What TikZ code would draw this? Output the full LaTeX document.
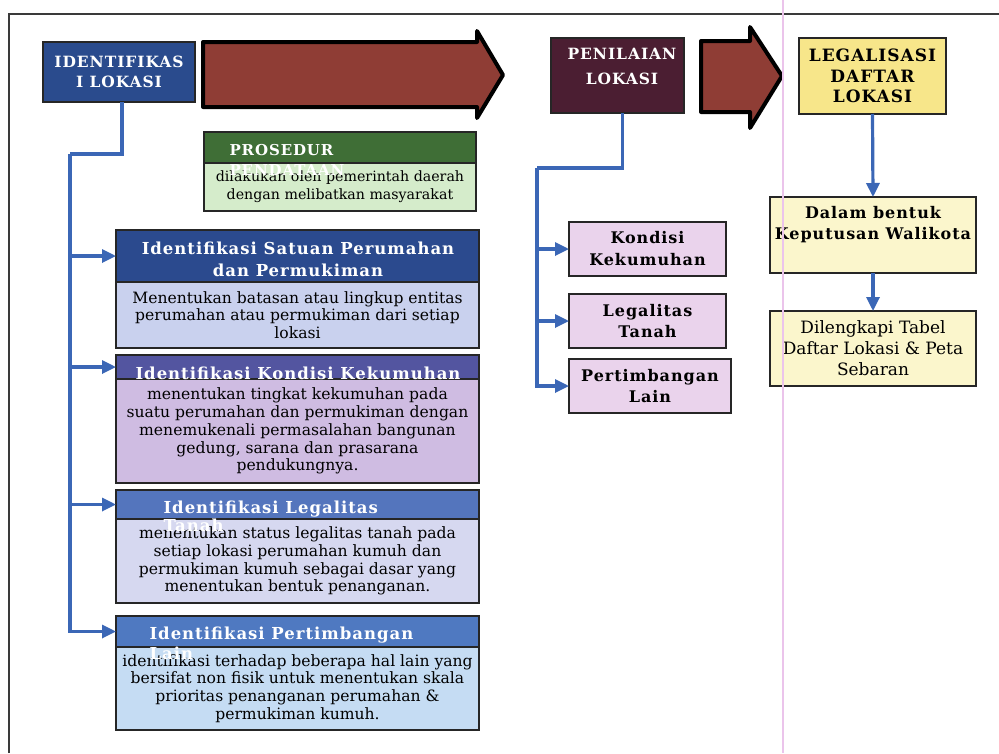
\documentclass[tikz,border=0pt]{standalone}
\usepackage{fontspec}
\setmainfont{DejaVu Serif}
\newfontfamily\lsfont[LetterSpace=6]{DejaVu Serif}
\usetikzlibrary{arrows.meta}
\definecolor{idblue}{HTML}{2A4B8D}
\definecolor{arrowred}{HTML}{8F3D35}
\definecolor{penmaroon}{HTML}{4B1E32}
\definecolor{legyellow}{HTML}{F7E68A}
\definecolor{lightyellow}{HTML}{FBF6CC}
\definecolor{lavpink}{HTML}{EAD3EC}
\definecolor{prosgreen}{HTML}{3F6E36}
\definecolor{prosbody}{HTML}{D5ECCB}
\definecolor{tone}{HTML}{2B4A8E}
\definecolor{bone}{HTML}{C9D1EE}
\definecolor{ttwo}{HTML}{5355A0}
\definecolor{btwo}{HTML}{CFBCE2}
\definecolor{tthree}{HTML}{5475BD}
\definecolor{bthree}{HTML}{D6D8F0}
\definecolor{tfour}{HTML}{4F79C1}
\definecolor{bfour}{HTML}{C5DCF3}
\definecolor{conncol}{HTML}{3B67B6}
\definecolor{framecol}{HTML}{3A3A3A}
\definecolor{pinkline}{HTML}{EBC4EB}
\tikzset{
  boxnode/.style={draw=black!85, line width=1.6pt, inner sep=0pt, outer sep=0pt, anchor=north west, align=center},
  bodytext/.style={font=\fontsize{15.6}{17.8}\selectfont},
  smalltext/.style={font=\fontsize{14.2}{18}\selectfont},
  titletext/.style={font=\fontsize{16.5}{22}\lsfont\bfseries, text=white},
  boldbox/.style={font=\fontsize{16}{21}\lsfont\bfseries},
  conn/.style={draw=conncol, line width=3.2pt},
  connarrow/.style={conn, -{Triangle[length=14pt,width=13pt]}},
  bigarrow/.style={draw=black, line width=4pt, line join=round, fill=arrowred},
}
\begin{document}
\begin{tikzpicture}[x=1pt,y=-1pt]
\useasboundingbox (0,0) rectangle (999,753);
\fill[white] (0,0) rectangle (999,753);
% frame
\draw[framecol, line width=1.6pt] (9,753) -- (9,14) -- (999,14);

% big arrows
\draw[bigarrow] (203,42) -- (477,42) -- (477,31) -- (503,75) -- (477,118) -- (477,107) -- (203,107) -- cycle;
\draw[bigarrow] (701,41) -- (750,41) -- (750,27) -- (782,76) -- (750,128) -- (750,112) -- (701,112) -- cycle;

% main boxes
\node[boxnode, fill=idblue, minimum width=152pt, minimum height=60pt, text=white, font=\fontsize{15.5}{20}\lsfont\bfseries] (ident) at (43,42) {IDENTIFIKAS\\I LOKASI};
\node[boxnode, fill=penmaroon, minimum width=133pt, minimum height=75pt] (pen) at (551,38) {};
\node[text=white, font=\fontsize{15.5}{25}\lsfont\bfseries, align=center] (pentext) at (622,66) {PENILAIAN\\LOKASI};
\node[boxnode, fill=legyellow, minimum width=147pt, minimum height=76pt, font=\fontsize{17}{20.5}\lsfont\bfseries] (leg) at (799,38) {LEGALISASI\\DAFTAR\\LOKASI};

% prosedur
\node[boxnode, fill=prosgreen, minimum width=272pt, minimum height=31pt] (prost) at (204,132) {};
\node[boxnode, fill=prosbody, minimum width=272pt, minimum height=48pt, smalltext] (prosb) at (204,163) {dilakukan oleh pemerintah daerah\\dengan melibatkan masyarakat};
\node[titletext, font=\fontsize{15}{20}\lsfont\bfseries, anchor=west, align=left] (prostext) at (226,160) {PROSEDUR\\PENDATAAN};

% left column boxes
\node[boxnode, fill=tone, minimum width=363pt, minimum height=52pt] (t1) at (116,230) {};
\node[boxnode, fill=bone, minimum width=363pt, minimum height=66pt, bodytext] (b1) at (116,282) {Menentukan batasan atau lingkup entitas\\perumahan atau permukiman dari setiap\\lokasi};
\node[titletext, align=center] (t1text) at (298,259) {Identifikasi Satuan Perumahan\\dan Permukiman};

\node[boxnode, fill=ttwo, minimum width=363pt, minimum height=24pt] (t2) at (116,355) {};
\node[boxnode, fill=btwo, minimum width=363pt, minimum height=104pt, bodytext] (b2) at (116,379) {menentukan tingkat kekumuhan pada\\suatu perumahan dan permukiman dengan\\menemukenali permasalahan bangunan\\gedung, sarana dan prasarana\\pendukungnya.};
\node[titletext, align=center] (t2text) at (298,373) {Identifikasi Kondisi Kekumuhan};

\node[boxnode, fill=tthree, minimum width=363pt, minimum height=29pt] (t3) at (116,490) {};
\node[boxnode, fill=bthree, minimum width=363pt, minimum height=84pt, bodytext] (b3) at (116,519) {menentukan status legalitas tanah pada\\setiap lokasi perumahan kumuh dan\\permukiman kumuh sebagai dasar yang\\menentukan bentuk penanganan.};
\node[titletext, anchor=west, align=left, font=\fontsize{16.5}{18}\lsfont\bfseries] (t3text) at (160,516) {Identifikasi Legalitas\\Tanah};

\node[boxnode, fill=tfour, minimum width=363pt, minimum height=31pt] (t4) at (116,616) {};
\node[boxnode, fill=bfour, minimum width=363pt, minimum height=83pt, bodytext] (b4) at (116,647) {identifikasi terhadap beberapa hal lain yang\\bersifat non fisik untuk menentukan skala\\prioritas penanganan perumahan \&\\permukiman kumuh.};
\node[titletext, anchor=west, align=left, font=\fontsize{16.5}{20}\lsfont\bfseries] (t4text) at (146,643) {Identifikasi Pertimbangan\\Lain};

% middle column
\node[boxnode, fill=lavpink, minimum width=157pt, minimum height=54pt, boldbox, font=\fontsize{16}{22}\lsfont\bfseries] (k1) at (569,222) {Kondisi\\Kekumuhan};
\node[boxnode, fill=lavpink, minimum width=157pt, minimum height=54pt, boldbox] (k2) at (569,294) {Legalitas\\Tanah};
\node[boxnode, fill=lavpink, minimum width=162pt, minimum height=54pt, boldbox] (k3) at (569,359) {Pertimbangan\\Lain};

% right column
\node[boxnode, fill=lightyellow, minimum width=206pt, minimum height=76pt] (dal) at (770,197) {};
\node[boldbox, align=center] (daltext) at (873,225) {Dalam bentuk\\Keputusan Walikota};
\node[boxnode, fill=lightyellow, minimum width=206pt, minimum height=75pt, font=\fontsize{17}{21}\selectfont] (dil) at (770,311) {Dilengkapi Tabel\\Daftar Lokasi \& Peta\\Sebaran};

% connectors left
\coordinate (lt) at (70,154);
\draw[conn] ([xshift=3pt]ident.south) |- (lt);
\draw[connarrow] (lt) |- (t1.west);
\draw[connarrow] (lt) |- (t2.west);
\draw[connarrow] (lt) |- (t3.west);
\draw[connarrow] (lt) |- (t4.west);

% connectors middle
\coordinate (rt) at (537,168);
\draw[conn] ([xshift=5pt]pen.south) |- (rt);
\draw[connarrow] (rt) |- (k1.west);
\draw[connarrow] (rt) |- (k2.west);
\draw[connarrow] (rt) |- (k3.west);

% connectors right
\draw[connarrow] (leg.south) -- (dal.north);
\draw[connarrow] (dal.south) -- (dil.north);

% pink guide line
\draw[pinkline, line width=1.4pt] (783,0) -- (783,753);
\end{tikzpicture}
\end{document}
